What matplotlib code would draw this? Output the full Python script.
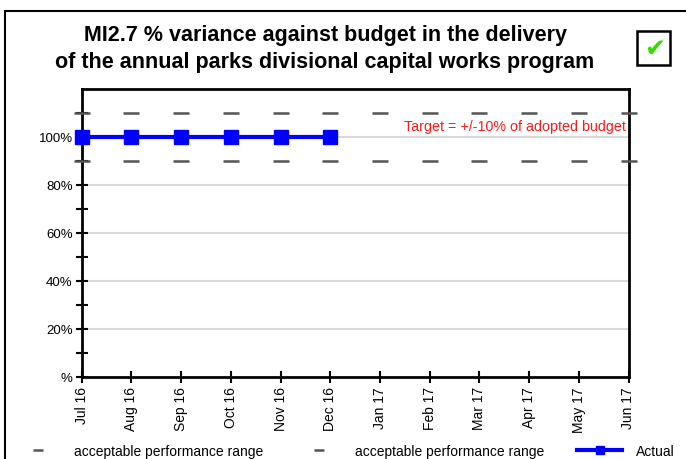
import matplotlib
matplotlib.use("Agg")
import matplotlib.pyplot as plt
from matplotlib.patches import Rectangle
from matplotlib.ticker import FixedLocator

plt.rcParams['font.family'] = ['Liberation Sans', 'DejaVu Sans']

months = ["Jul 16", "Aug 16", "Sep 16", "Oct 16", "Nov 16", "Dec 16",
          "Jan 17", "Feb 17", "Mar 17", "Apr 17", "May 17", "Jun 17"]
upper_range = [110] * 12
lower_range = [90] * 12
actual = [100, 100, 100, 100, 100, 100]
ytick_vals = [0, 20, 40, 60, 80, 100]
ytick_labels = ["%", "20%", "40%", "60%", "80%", "100%"]
title = "MI2.7 % variance against budget in the delivery\nof the annual parks divisional capital works program"
target_note = "Target = +/-10% of adopted budget"

W, H = 686, 460
fig = plt.figure(figsize=(W / 100, H / 100), dpi=100)
ax = fig.add_axes([81.7 / W, 1 - 378 / H, (628.5 - 81.7) / W, (378 - 90) / H])

x = list(range(len(months)))
ax.plot(x, upper_range, linestyle='none', marker='_', markersize=11,
        markeredgewidth=1.8, color='#555555', clip_on=False, zorder=4,
        label='acceptable performance range')
ax.plot(x, lower_range, linestyle='none', marker='_', markersize=11,
        markeredgewidth=1.8, color='#555555', clip_on=False, zorder=4,
        label='acceptable performance range')
ax.plot(x[:len(actual)], actual, color='#0000ff', linewidth=3, marker='s',
        markersize=10, clip_on=False, zorder=5, label='Actual')

ax.set_xlim(0, len(months) - 1)
ax.set_ylim(0, 120)
ax.set_xticks(x)
ax.set_xticklabels(months, rotation=90, fontsize=10)
ax.yaxis.set_major_locator(FixedLocator(ytick_vals))
ax.set_yticklabels(ytick_labels, fontsize=9.5)
ax.yaxis.set_minor_locator(FixedLocator([10, 30, 50, 70, 90, 110]))
ax.tick_params(axis='both', which='both', direction='inout', length=9,
               width=1.5, color='black', pad=2)
for yv in [20, 40, 60, 80, 100]:
    ax.axhline(yv, color='#d9d9d9', linewidth=1.5, zorder=0)
for s in ax.spines.values():
    s.set_linewidth(2)
    s.set_color('black')

ax.text(0.995, 0.87, target_note, transform=ax.transAxes, ha='right',
        va='center', color='#ff1a1a', fontsize=10.3)

leg = ax.legend(loc='center', bbox_to_anchor=(345 / W, 1 - 452 / H),
                bbox_transform=fig.transFigure, ncol=3, frameon=False,
                fontsize=10, markerscale=0.6, handlelength=3.2,
                handletextpad=1.0, columnspacing=2.4, borderpad=0.1)

fig.text(325 / W, 1 - 49 / H, title, ha='center', va='center',
         fontsize=15.5, fontweight='bold', linespacing=1.4)

# outer frame
fig.patches.append(Rectangle((5 / W, -0.1), 1.2, 1 - 12 / H + 0.1,
                             transform=fig.transFigure, fill=False,
                             edgecolor='black', linewidth=1.5))
# check box
fig.patches.append(Rectangle((637 / W, 1 - 66 / H), 33 / W, 34 / H,
                             transform=fig.transFigure, facecolor='white',
                             edgecolor='black', linewidth=1.8))
fig.text(654.5 / W, 1 - 49 / H, "\u2714", ha='center', va='center',
         fontsize=18, color='#33dd00', family='DejaVu Sans')

fig.savefig("out.png", dpi=100)
